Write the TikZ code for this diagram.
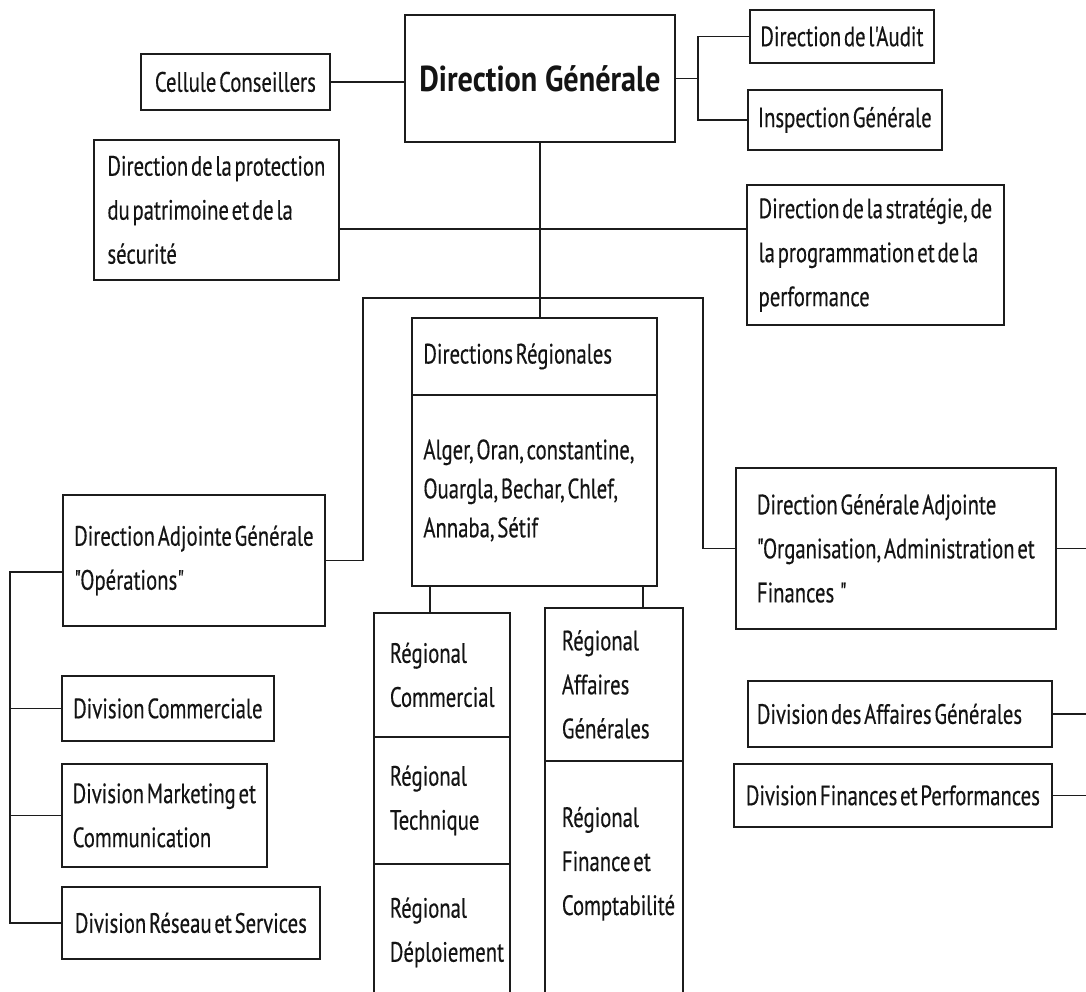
\documentclass[tikz,border=0pt]{standalone}
\usepackage{fontspec}
\setmainfont{PT Sans}[FakeStretch=0.74,FakeBold=0.35,WordSpace=0.5,Ligatures=TeXOff]
\newfontfamily\headfont{PT Sans}[FakeStretch=0.84,Ligatures=TeXOff]
\usepackage{tikz}
\usetikzlibrary{positioning}
\definecolor{OrgInk}{RGB}{28,28,28}
\definecolor{OrgText}{RGB}{20,20,20}
\frenchspacing

\begin{document}
\begin{tikzpicture}[
    x=1pt,y=-1pt,
    box/.style={draw=OrgInk, line width=1.8pt, anchor=north west, inner xsep=9pt, inner ysep=0pt, align=left, text=OrgText, font=\fontsize{28}{44}\selectfont},
    padbox/.style={box, align=flush left},
    head/.style={box, align=center, font=\fontsize{36}{40}\selectfont\headfont\bfseries},
    link/.style={draw=OrgInk, line width=1.8pt}
  ]
    \useasboundingbox (0,0) rectangle (1086,991);
    % top level
    \node[head, minimum width=270pt, minimum height=127pt] (dg) at (404,14) {Direction Générale};
    \node[box, minimum width=189pt, minimum height=56pt] (cell) at (140,53) {Cellule Conseillers};
    \node[box, minimum width=184pt, minimum height=53pt] (audit) at (749,9) {Direction de l'Audit};
    \node[box, minimum width=194pt, minimum height=60pt] (insp) at (747,89) {Inspection Générale};
    \node[box, minimum width=245pt, minimum height=140pt] (prot) at (93,139) {Direction de la protection\\du patrimoine et de la\\sécurité};
    \node[box, minimum width=257pt, minimum height=140pt] (strat) at (746,184) {Direction de la stratégie, de\\la programmation et de la\\performance};
    % regional directions
    \node[padbox, minimum width=245pt, minimum height=77pt, text width=222pt] (drhead) at (411,317) {Directions Régionales};
    \node[padbox, minimum width=245pt, minimum height=191pt, text width=222pt, font=\fontsize{28}{39}\selectfont] (drbody) at (411,394) {Alger, Oran, constantine,\\Ouargla, Bechar, Chlef,\\Annaba, Sétif};
    \foreach \y/\h/\name/\lab in {612/124/rcom/{Régional\\Commercial},736/127/rtech/{Régional\\Technique},863/137/rdep/{Régional\\Déploiement}} {
      \node[padbox, minimum width=136pt, minimum height=\h pt, text width=104pt] (\name) at (373,\y) {\lab};
    }
    \node[padbox, minimum width=138pt, minimum height=153pt, text width=104pt] (raff) at (544,607) {Régional\\Affaires\\Générales};
    \node[padbox, minimum width=138pt, minimum height=244pt, text width=104pt] (rfin) at (544,760) {Régional\\Finance et\\Comptabilité\\ \mbox{}};
    % deputy directions
    \node[box, minimum width=262pt, minimum height=131pt] (dag) at (62,494) {Direction Adjointe Générale\\"Opérations"};
    \node[box, minimum width=320pt, minimum height=161pt] (dga) at (735,467) {Direction Générale Adjointe\\"Organisation, Administration et\\Finances \ "};
    \node[box, minimum width=212pt, minimum height=65pt] (dcom) at (61,675) {Division Commerciale};
    \node[box, minimum width=205pt, minimum height=103pt] (dmkt) at (61,763) {Division Marketing et\\Communication};
    \node[box, minimum width=258pt, minimum height=72pt] (dres) at (61,886) {Division Réseau et Services};
    \node[padbox, minimum width=304pt, minimum height=66pt, text width=286pt] (dgen) at (747,680) {Division des Affaires Générales};
    \node[box, minimum width=318pt, minimum height=63pt] (dfin) at (733,763) {Division Finances et Performances};
    % bus points
    \coordinate (abus) at (698,0);
    \coordinate (spine) at (540,229);
    \coordinate (lstem) at (363,298);
    \coordinate (rstem) at (703,298);
    \coordinate (lbus) at (10,572);
    \coordinate (rbus) at (1098,0);
    \coordinate (cl) at ([xshift=19pt]drbody.south west);
    \coordinate (cr) at ([xshift=-15pt]drbody.south east);
    % connectors
    \draw[link] (cell.east) -- (cell.east -| dg.west);
    \draw[link] (dg.east) -- (dg.east -| abus);
    \draw[link] (audit.west) -- (audit.west -| abus) |- (insp.west);
    \draw[link] (dg.south) -- (dg.south |- drhead.north);
    \draw[link] (prot.east |- spine) -- (strat.west |- spine);
    \draw[link] (dag.east) -| (lstem) -- (rstem) |- (dga.west);
    \draw[link] (cl) -- (cl |- rcom.north);
    \draw[link] (cr) -- (cr |- raff.north);
    \draw[link] (dag.west |- lbus) -- (lbus) |- (dres.west);
    \foreach \n in {dcom,dmkt} {\draw[link] (lbus |- \n.west) -- (\n.west);}
    \draw[link] (dga.east) -- (dga.east -| rbus) |- (dfin.east);
    \draw[link] (dgen.east) -- (dgen.east -| rbus);
  \end{tikzpicture}
\end{document}
